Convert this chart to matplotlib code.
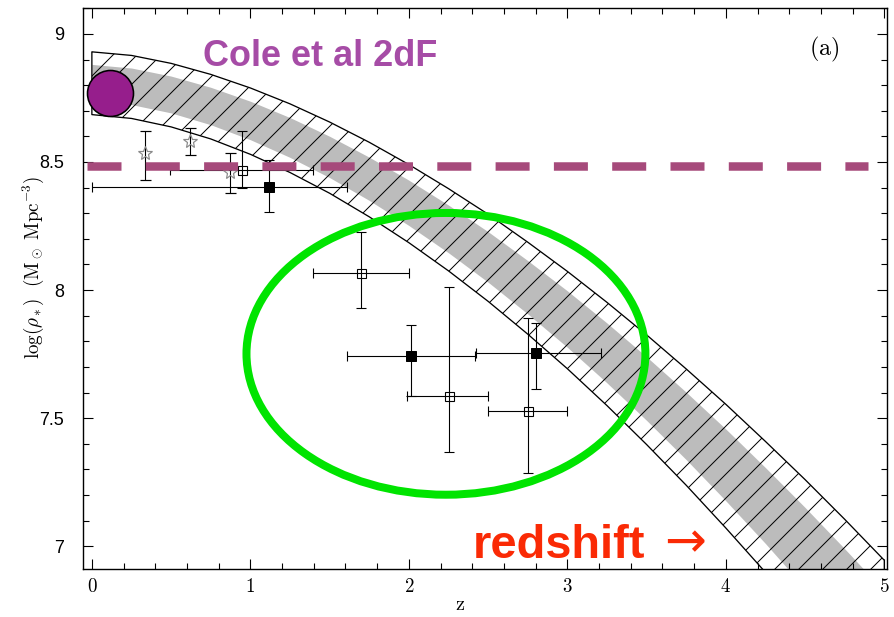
import matplotlib
matplotlib.use('Agg')
import matplotlib.pyplot as plt
from matplotlib.patches import Ellipse
from matplotlib.ticker import MultipleLocator
import numpy as np

plt.rcParams['mathtext.fontset'] = 'cm'
plt.rcParams['hatch.linewidth'] = 1.0
plt.rcParams['lines.scale_dashes'] = False

# model band: upper / lower edge of log(rho*) vs z
band_z = [0.0, 0.25, 0.5, 0.75, 1.0, 1.25, 1.5, 1.75, 2.0, 2.25, 2.5,
          2.75, 3.0, 3.25, 3.5, 3.75, 4.0, 4.25, 4.5, 4.75, 5.0]
band_hi = [8.93, 8.916, 8.885, 8.842, 8.789, 8.727, 8.656, 8.577, 8.49, 8.396, 8.296,
           8.187, 8.073, 7.952, 7.825, 7.692, 7.554, 7.409, 7.26, 7.105, 6.945]
band_lo = [8.685, 8.67, 8.637, 8.59, 8.53, 8.459, 8.378, 8.286, 8.185, 8.075, 7.956,
           7.828, 7.693, 7.549, 7.397, 7.238, 7.071, 6.898, 6.716, 6.53, 6.34]

# stars (no z error)
star_z = [0.336, 0.62, 0.872]
star_rho = [8.537, 8.58, 8.462]
star_lo = [8.431, 8.529, 8.38]
star_hi = [8.622, 8.634, 8.536]

# filled squares
fill_z = [1.119, 2.015, 2.80]
fill_rho = [8.404, 7.744, 7.756]
fill_rho_lo = [8.306, 7.587, 7.614]
fill_rho_hi = [8.509, 7.865, 7.872]
fill_z_lo = [0.0, 1.61, 2.424]
fill_z_hi = [1.61, 2.418, 3.21]

# open squares
open_z = [0.948, 1.698, 2.254, 2.75]
open_rho = [8.47, 8.068, 7.588, 7.526]
open_rho_lo = [8.40, 7.93, 7.368, 7.287]
open_rho_hi = [8.622, 8.228, 8.013, 7.892]
open_z_lo = [0.493, 1.396, 1.988, 2.50]
open_z_hi = [1.396, 2.001, 2.50, 2.998]

# Cole et al 2dF
cole_z = [0.115]
cole_rho = [8.771]
cole_level = 8.486

xticks = [0, 1, 2, 3, 4, 5]
xticklabels = ['$0$', '$1$', '$2$', '$3$', '$4$', '$5$']
yticks = [7, 7.5, 8, 8.5, 9]
yticklabels = ['7', '7.5', '8', '8.5', '9']

W, H = 894, 617
fig = plt.figure(figsize=(W / 72, H / 72), dpi=72)
ax = fig.add_axes([83 / W, 1 - 569 / H, (886.7 - 83) / W, (569 - 8.3) / H])

z = np.array(band_z)
hi = np.array(band_hi)
lo = np.array(band_lo)
w = hi - lo
# grey core of the band, then hatching on top
ax.fill_between(z, lo + 0.22 * w, lo + 0.8 * w, color='#bcbcbc', lw=0, zorder=1)
ax.fill_between(z, lo, hi, facecolor='none', edgecolor='black', hatch='/', lw=1.3, zorder=2)

# error bars
ax.errorbar(star_z, star_rho,
            yerr=[np.array(star_rho) - star_lo, np.array(star_hi) - star_rho],
            fmt='*', ms=14, mfc='none', mec='#8a8a8a', mew=1.2,
            ecolor='black', elinewidth=1.1, capsize=5.5, capthick=1.1, zorder=4)
ax.errorbar(open_z, open_rho,
            yerr=[np.array(open_rho) - open_rho_lo, np.array(open_rho_hi) - open_rho],
            xerr=[np.array(open_z) - open_z_lo, np.array(open_z_hi) - open_z],
            fmt='s', ms=9, mfc='none', mec='black', mew=1.1,
            ecolor='black', elinewidth=1.1, capsize=5, capthick=1.1, zorder=4)
ax.errorbar(fill_z, fill_rho,
            yerr=[np.array(fill_rho) - fill_rho_lo, np.array(fill_rho_hi) - fill_rho],
            xerr=[np.array(fill_z) - fill_z_lo, np.array(fill_z_hi) - fill_z],
            fmt='s', ms=10, mfc='black', mec='black',
            ecolor='black', elinewidth=1.1, capsize=5, capthick=1.1, zorder=4)

# Cole et al level and point
ax.plot([-0.03, 4.9], [cole_level, cole_level], color='#a64a7b', lw=8.5,
        dashes=(34, 24.3), solid_capstyle='butt', dash_capstyle='butt', zorder=5)
ax.plot(cole_z, cole_rho, 'o', ms=46, mfc='#961e8c', mec='black', mew=1.6, zorder=6)

# green ellipse
ax.add_patch(Ellipse((2.234, 7.751), 2.517, 1.10, fill=False, ec='#00e400', lw=8, zorder=7))

ax.text(0.70, 8.873, 'Cole et al 2dF', color='#a64ca6', fontsize=36,
        fontweight='bold', family='Liberation Sans', va='baseline', zorder=8)
ax.text(2.40, 6.955, 'redshift', color='#fa2a05', fontsize=47,
        fontweight='bold', family='Liberation Sans', va='baseline', zorder=8)
ax.text(3.61, 6.957, '\u2192', color='#fa2a05', fontsize=50,
        family='DejaVu Sans', va='baseline', zorder=8)
ax.text(4.62, 8.94, r'$\rm (a)$', fontsize=24, ha='center', va='center')

ax.set_xlim(-0.056, 5.015)
ax.set_ylim(6.911, 9.10)
ax.set_xticks(xticks)
ax.set_xticklabels(xticklabels, fontsize=19)
ax.set_yticks(yticks)
ax.set_yticklabels(yticklabels, fontsize=18, family='Liberation Sans')
ax.xaxis.set_minor_locator(MultipleLocator(0.2))
ax.yaxis.set_minor_locator(MultipleLocator(0.1))
ax.tick_params(which='both', direction='in', top=True, right=True, width=1.1)
ax.tick_params(which='major', length=10)
ax.tick_params(which='minor', length=6)
ax.tick_params(axis='x', pad=8)
ax.tick_params(axis='y', pad=19)
for s in ax.spines.values():
    s.set_linewidth(1.4)

ax.set_xlabel(r'$\rm z$', fontsize=20)
ax.xaxis.set_label_coords(0.469, -0.046)
ax.set_ylabel(r'$\log(\rho_*)\ \ ({\rm M_\odot\ Mpc^{-3}})$', fontsize=19)
ax.yaxis.set_label_coords(-0.046, 0.537)

fig.savefig('out.png', dpi=72)
